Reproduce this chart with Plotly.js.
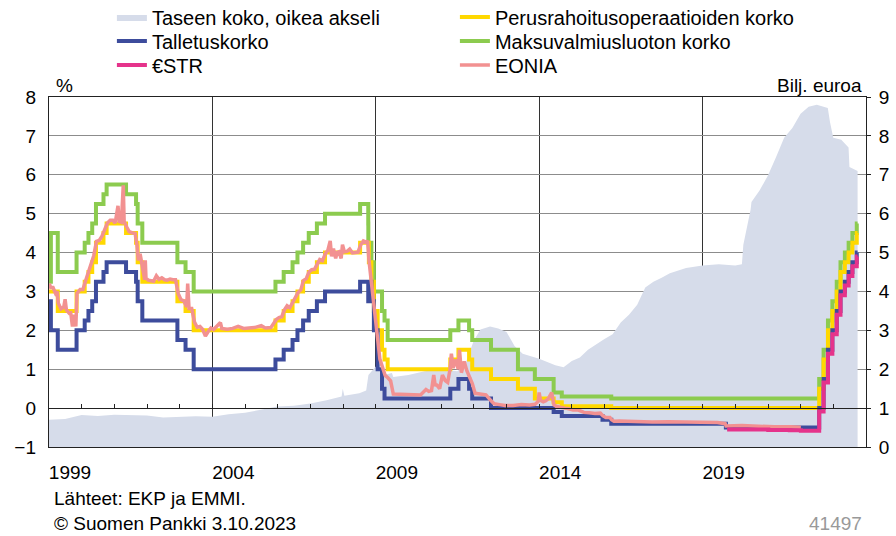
<!DOCTYPE html>
<html>
<head>
<meta charset="utf-8">
<script src="https://cdn.plot.ly/plotly-3.0.1.min.js"></script>
<style>
	html, body { margin: 0; padding: 0; background: #fff; }
	#chart { width: 896px; height: 536px; }
</style>
</head>
<body>
<div id="chart"></div>
<script>
// EKP:n ohjauskorot, päivittäin dataa ei ole, joten muutospäivät
const rateDates = ['1999-01-01','1999-01-04','1999-01-22','1999-04-09','1999-11-05','2000-02-04','2000-03-17','2000-04-28','2000-06-09','2000-09-01','2000-10-06','2001-05-11','2001-08-31','2001-09-18','2001-11-09','2002-12-06','2003-03-07','2003-06-06','2005-12-06','2006-03-08','2006-06-15','2006-08-09','2006-10-11','2006-12-13','2007-03-14','2007-06-13','2008-07-09','2008-10-08','2008-10-09','2008-10-15','2008-11-12','2008-12-10','2009-01-21','2009-03-11','2009-04-08','2009-05-13','2011-04-13','2011-07-13','2011-11-09','2011-12-14','2012-07-11','2013-05-08','2013-11-13','2014-06-11','2014-09-10','2015-12-09','2016-03-16','2019-09-18','2022-07-27','2022-09-14','2022-11-02','2022-12-21','2023-02-08','2023-03-22','2023-05-10','2023-06-21','2023-08-02','2023-09-20','2023-09-29'];
const mro = [3.00,3.00,3.00,2.50,3.00,3.25,3.50,3.75,4.25,4.50,4.75,4.50,4.25,3.75,3.25,2.75,2.50,2.00,2.25,2.50,2.75,3.00,3.25,3.50,3.75,4.00,4.25,4.25,4.25,3.75,3.25,2.50,2.00,1.50,1.25,1.00,1.25,1.50,1.25,1.00,0.75,0.50,0.25,0.15,0.05,0.05,0.00,0.00,0.50,1.25,2.00,2.50,3.00,3.50,3.75,4.00,4.25,4.50,4.50];
const depo = [2.00,2.75,2.00,1.50,2.00,2.25,2.50,2.75,3.25,3.50,3.75,3.50,3.25,2.75,2.25,1.75,1.50,1.00,1.25,1.50,1.75,2.00,2.25,2.50,2.75,3.00,3.25,2.75,3.25,3.25,2.75,2.00,1.00,0.50,0.25,0.25,0.50,0.75,0.50,0.25,0.00,0.00,0.00,-0.10,-0.20,-0.30,-0.40,-0.50,0.00,0.75,1.50,2.00,2.50,3.00,3.25,3.50,3.75,4.00,4.00];
const mlf = [4.50,3.25,4.50,3.50,4.00,4.25,4.50,4.75,5.25,5.50,5.75,5.50,5.25,4.75,4.25,3.75,3.50,3.00,3.25,3.50,3.75,4.00,4.25,4.50,4.75,5.00,5.25,4.75,4.25,4.25,3.75,3.00,3.00,2.50,2.25,1.75,2.00,2.25,2.00,1.75,1.50,1.00,0.75,0.40,0.30,0.30,0.25,0.25,0.75,1.50,2.25,2.75,3.25,3.75,4.00,4.25,4.50,4.75,4.75];

// €STR
const estrDates = ['2019-10-02','2020-06-01','2021-01-04','2021-09-01','2022-01-03','2022-07-27','2022-09-14','2022-11-02','2022-12-21','2023-02-08','2023-03-22','2023-05-10','2023-06-21','2023-08-02','2023-09-20','2023-09-29'];
const estr = [-0.55,-0.55,-0.56,-0.57,-0.58,-0.09,0.66,1.40,1.90,2.40,2.90,3.15,3.40,3.65,3.90,3.90];

// EONIA, kuvasta luetut arviot
const eoniaDates = ['1999-01-04','1999-01-20','1999-02-15','1999-03-15','1999-04-01','1999-04-15','1999-05-15','1999-06-15','1999-06-30','1999-07-15','1999-08-15','1999-09-01','1999-09-20','1999-10-10','1999-10-28','1999-11-10','1999-12-15',
	'2000-01-15','2000-02-15','2000-03-20','2000-04-20','2000-05-15','2000-06-15','2000-07-15','2000-08-15','2000-09-15','2000-10-15','2000-11-15','2000-12-15',
	'2001-01-10','2001-02-10','2001-02-25','2001-03-20','2001-04-10','2001-04-20','2001-05-20','2001-06-15','2001-07-15','2001-08-20','2001-09-10','2001-09-25','2001-10-15','2001-11-15','2001-12-05','2001-12-12','2001-12-20',
	'2002-01-15','2002-02-15','2002-03-15','2002-04-15','2002-05-15','2002-06-15','2002-07-15','2002-08-15','2002-09-15','2002-10-15','2002-11-15','2002-12-15',
	'2003-01-15','2003-02-15','2003-03-20','2003-03-31','2003-04-15','2003-05-15','2003-06-15','2003-07-15','2003-08-15','2003-09-15','2003-10-15','2003-11-15','2003-12-15',
	'2004-01-15','2004-03-31','2004-04-15','2004-06-15','2004-08-15','2004-10-15','2004-12-15',
	'2005-02-15','2005-04-15','2005-06-30','2005-08-15','2005-10-15','2005-12-15',
	'2006-01-15','2006-02-15','2006-03-15','2006-04-15','2006-05-15','2006-06-15','2006-07-15','2006-08-15','2006-09-15','2006-10-15','2006-11-15','2006-12-15',
	'2007-01-15','2007-02-15','2007-03-15','2007-04-15','2007-05-15','2007-06-15','2007-07-15','2007-08-10','2007-08-25','2007-09-15','2007-10-10','2007-10-25','2007-11-15','2007-12-10','2007-12-25',
	'2008-01-15','2008-02-15','2008-03-15','2008-04-15','2008-05-15','2008-06-15','2008-07-15','2008-08-15','2008-09-15','2008-10-01','2008-10-15','2008-11-15','2008-12-15',
	'2009-01-15','2009-02-15','2009-03-15','2009-04-15','2009-05-15','2009-06-15','2009-07-15','2009-09-15','2009-11-15',
	'2010-01-15','2010-03-15','2010-05-15','2010-07-15','2010-08-15','2010-09-15','2010-10-10','2010-10-25','2010-11-15','2010-12-15',
	'2011-01-15','2011-02-15','2011-03-15','2011-04-10','2011-04-25','2011-05-15','2011-06-15','2011-07-10','2011-07-25','2011-08-15','2011-09-15','2011-10-15','2011-11-15','2011-12-15',
	'2012-01-15','2012-03-15','2012-05-15','2012-07-15','2012-08-15','2012-10-15','2012-12-15',
	'2013-03-15','2013-06-15','2013-09-15','2013-11-15','2013-12-20','2013-12-31',
	'2014-01-15','2014-02-15','2014-03-15','2014-04-15','2014-05-20','2014-06-15','2014-07-15','2014-08-15','2014-09-15','2014-10-15','2014-11-15','2014-12-15',
	'2015-01-15','2015-03-15','2015-04-15','2015-05-15','2015-07-15','2015-09-15','2015-11-15','2015-12-15',
	'2016-01-15','2016-03-01','2016-03-20','2016-04-15','2016-06-15','2016-09-15','2016-12-15',
	'2017-06-15','2017-12-15','2018-06-15','2018-12-15','2019-06-15','2019-09-10','2019-09-20',
	'2020-03-15','2020-09-15','2021-03-15','2021-09-15','2022-01-03'];
const eonia = [3.20,3.10,3.10,2.95,3.00,2.70,2.55,2.60,2.80,2.52,2.44,2.45,2.10,2.40,2.10,2.95,3.05,
	3.05,3.28,3.51,3.69,3.92,4.29,4.31,4.42,4.59,4.76,4.83,4.83,
	4.76,5.20,4.80,4.78,5.73,4.80,4.65,4.54,4.51,4.49,4.20,3.80,3.97,3.51,3.30,3.80,3.34,
	3.29,3.28,3.26,3.40,3.31,3.35,3.30,3.29,3.32,3.30,3.30,2.95,
	2.79,2.76,2.60,3.20,2.56,2.56,2.21,2.08,2.10,2.02,1.85,1.97,2.06,
	2.02,2.20,2.05,2.03,2.05,2.10,2.05,
	2.06,2.07,2.12,2.06,2.07,2.28,
	2.33,2.35,2.52,2.63,2.58,2.70,2.81,2.97,3.04,3.28,3.33,3.50,
	3.56,3.57,3.69,3.82,3.79,3.96,4.06,4.30,3.90,4.10,3.85,4.00,4.02,3.85,4.20,
	4.02,4.03,4.09,3.99,4.01,4.01,4.19,4.30,4.27,4.30,3.82,3.15,2.49,
	1.81,1.26,1.06,0.84,0.78,0.70,0.36,0.36,0.36,
	0.34,0.35,0.34,0.48,0.43,0.45,0.85,0.60,0.59,0.50,
	0.85,0.71,0.66,1.00,1.40,1.03,1.25,1.00,1.50,0.91,1.20,0.96,0.79,0.63,
	0.38,0.36,0.34,0.18,0.11,0.09,0.07,
	0.07,0.09,0.08,0.10,0.17,0.40,
	0.20,0.16,0.19,0.25,0.40,0.08,0.04,0.02,0.01,0.00,-0.01,-0.03,
	-0.05,-0.05,-0.07,-0.11,-0.12,-0.14,-0.13,-0.20,
	-0.24,-0.24,-0.30,-0.34,-0.33,-0.34,-0.35,
	-0.36,-0.35,-0.36,-0.36,-0.37,-0.40,-0.46,
	-0.45,-0.47,-0.48,-0.48,-0.49];

// Eurojärjestelmän taseen koko, bilj. euroa
const bsDates = ['1999-01-01','1999-06-30','1999-12-31','2000-06-30','2000-12-31','2001-06-30','2001-12-31','2002-06-30','2002-12-31','2003-06-30','2003-12-31','2004-06-30','2004-12-31','2005-06-30','2005-12-31','2006-06-30','2006-12-31','2007-06-30','2007-12-15','2007-12-28','2008-01-15','2008-06-30','2008-09-15','2008-10-10','2008-12-31','2009-03-31','2009-06-30','2009-07-15','2009-12-31','2010-06-30','2010-12-31','2011-06-30','2011-09-30','2011-12-31','2012-03-15','2012-06-30','2012-09-30','2012-12-31','2013-03-31','2013-06-30','2013-12-31','2014-06-30','2014-09-30','2014-12-31','2015-03-31','2015-06-30','2015-09-30','2015-12-31','2016-03-31','2016-06-30','2016-09-30','2016-12-31','2017-03-31','2017-06-30','2017-09-30','2017-12-31','2018-06-30','2018-12-31','2019-06-30','2019-12-31','2020-03-15','2020-03-31','2020-06-20','2020-06-30','2020-09-30','2020-12-31','2021-03-31','2021-06-30','2021-09-30','2021-12-31','2022-03-31','2022-06-30','2022-10-31','2022-11-25','2022-12-31','2023-03-31','2023-06-20','2023-06-30','2023-09-29'];
const balance = [0.70,0.72,0.82,0.80,0.83,0.82,0.81,0.76,0.78,0.79,0.78,0.84,0.88,0.95,1.04,1.06,1.12,1.20,1.30,1.50,1.32,1.38,1.45,1.85,2.07,1.85,1.90,1.80,1.85,1.95,2.00,1.95,2.15,2.73,3.02,3.10,3.05,2.96,2.60,2.40,2.27,2.10,2.05,2.21,2.30,2.50,2.65,2.78,2.90,3.20,3.40,3.66,4.10,4.25,4.35,4.47,4.60,4.67,4.70,4.67,4.70,5.20,6.10,6.30,6.60,6.98,7.45,7.95,8.20,8.57,8.75,8.80,8.72,8.35,7.95,7.90,7.70,7.20,7.10];

const yearTicks = ['1999-01-01','2004-01-01','2009-01-01','2014-01-01','2019-01-01'];
const yearLabels = ['1999','2004','2009','2014','2019'];

const fnt = 'Liberation Sans, Arial, sans-serif';
const xRange = ['1999-01-01','2024-01-01'];

const data = [
	{x: bsDates, y: balance, type: 'scatter', mode: 'lines', name: 'Taseen koko, oikea akseli',
		fill: 'tozeroy', fillcolor: '#d6dcea', line: {width: 0, color: '#d6dcea'}, legend: 'legend', legendrank: 1},
	{x: rateDates, y: mlf, yaxis: 'y2', type: 'scatter', mode: 'lines', name: 'Maksuvalmiusluoton korko',
		line: {color: '#8ccb4f', width: 4, shape: 'hv'}, legend: 'legend2', legendrank: 2},
	{x: rateDates, y: mro, yaxis: 'y2', type: 'scatter', mode: 'lines', name: 'Perusrahoitusoperaatioiden korko',
		line: {color: '#ffd800', width: 4, shape: 'hv'}, legend: 'legend', legendrank: 2},
	{x: rateDates, y: depo, yaxis: 'y2', type: 'scatter', mode: 'lines', name: 'Talletuskorko',
		line: {color: '#3d4c9c', width: 4, shape: 'hv'}, legend: 'legend2', legendrank: 1},
	{x: eoniaDates, y: eonia, yaxis: 'y2', type: 'scatter', mode: 'lines', name: 'EONIA',
		line: {color: '#f29191', width: 3.5}, legend: 'legend3', legendrank: 2},
	{x: estrDates, y: estr, yaxis: 'y2', type: 'scatter', mode: 'lines', name: '€STR',
		line: {color: '#e5338b', width: 4, shape: 'hv'}, legend: 'legend3', legendrank: 1},
	// tyhjä sarja, jotta vuosiakselin väkäset nollatasolla piirtyvät
	{x: [], y: [], xaxis: 'x2', type: 'scatter', mode: 'lines', showlegend: false, hoverinfo: 'skip'}
];

function legendRow(yPos) {
	return {
		orientation: 'h', x: 0.077, xanchor: 'left', y: yPos, yanchor: 'middle',
		entrywidth: 298, entrywidthmode: 'pixels', traceorder: 'normal',
		font: {family: fnt, size: 20, color: '#000'}, bgcolor: 'rgba(0,0,0,0)', itemwidth: 30
	};
}

const layout = {
	width: 896,
	height: 536,
	margin: {l: 49, r: 30, t: 97, b: 89, autoexpand: false},
	paper_bgcolor: '#ffffff',
	plot_bgcolor: '#ffffff',
	font: {family: fnt, size: 19, color: '#000'},
	showlegend: true,
	hovermode: false,
	legend: legendRow(1.2286),
	legend2: legendRow(1.16),
	legend3: legendRow(1.0914),
	xaxis: {
		type: 'date', range: xRange,
		tickvals: yearTicks, ticktext: yearLabels, ticklabelshift: 21, ticklabelstandoff: 8,
		ticks: '', showgrid: true, gridcolor: '#333', gridwidth: 1,
		showline: true, linecolor: '#222', linewidth: 1, mirror: true, zeroline: false
	},
	xaxis2: {
		type: 'date', range: xRange, overlaying: 'x', anchor: 'free', position: 1 / 9,
		dtick: 'M12', tick0: '1999-01-01', ticks: 'inside', ticklen: 4, tickcolor: '#222',
		showticklabels: false, showgrid: false, showline: true, linecolor: '#222', zeroline: false
	},
	yaxis: {
		side: 'right', range: [0, 9], dtick: 1, tick0: 0,
		ticks: 'outside', ticklen: 4, tickcolor: '#222', ticklabelstandoff: 4,
		showgrid: true, gridcolor: '#8c8c8c', gridwidth: 1,
		showline: true, linecolor: '#222', mirror: true, zeroline: false
	},
	yaxis2: {
		side: 'left', overlaying: 'y', range: [-1, 8], dtick: 1, tick0: 0,
		ticks: '', ticklabelstandoff: 12, showgrid: false, zeroline: false, showline: false
	},
	annotations: [
		{text: '%', xref: 'paper', yref: 'paper', x: 0.006, y: 1.034, xanchor: 'left', yanchor: 'middle', showarrow: false},
		{text: 'Bilj. euroa', xref: 'paper', yref: 'paper', x: 0.998, y: 1.034, xanchor: 'right', yanchor: 'middle', showarrow: false},
		{text: 'Lähteet: EKP ja EMMI.', xref: 'paper', yref: 'paper', x: 0.004, y: -0.146, xanchor: 'left', yanchor: 'middle', showarrow: false},
		{text: '© Suomen Pankki 3.10.2023', xref: 'paper', yref: 'paper', x: 0.004, y: -0.218, xanchor: 'left', yanchor: 'middle', showarrow: false},
		{text: '41497', xref: 'paper', yref: 'paper', x: 0.997, y: -0.218, xanchor: 'right', yanchor: 'middle', showarrow: false, font: {color: '#999999'}}
	]
};

Plotly.newPlot('chart', data, layout, {staticPlot: true, displayModeBar: false});
</script>
</body>
</html>
